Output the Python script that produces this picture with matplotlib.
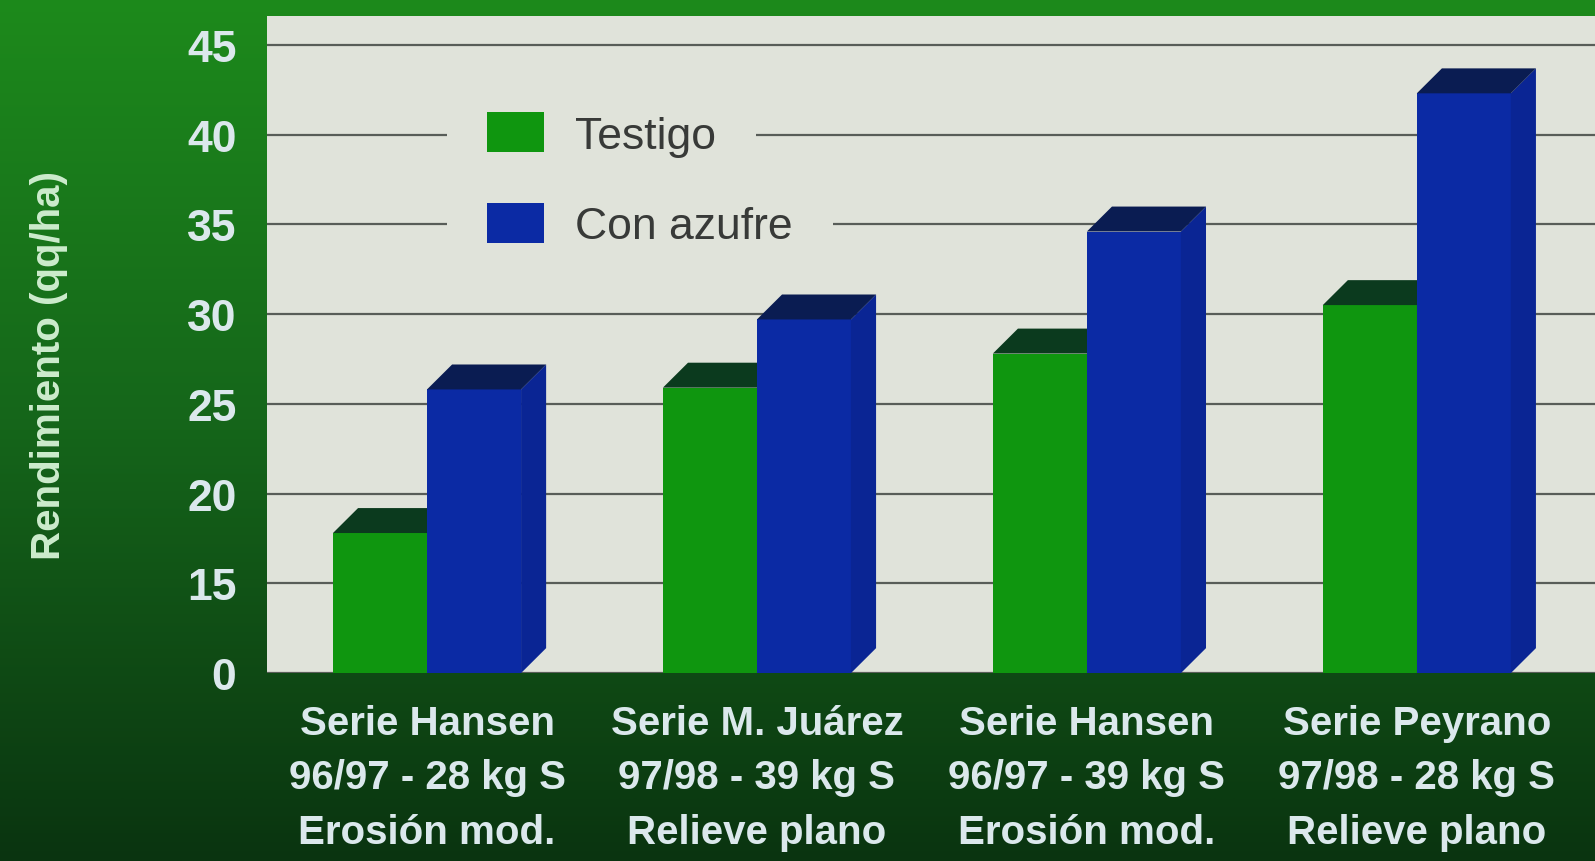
import matplotlib
matplotlib.use("Agg")
import matplotlib.pyplot as plt
import numpy as np
from matplotlib.patches import Polygon, Patch
from matplotlib.colors import to_rgb

# ---------------- data ----------------
categories = [
    "Serie Hansen\n96/97 - 28 kg S\nErosión mod.",
    "Serie M. Juárez\n97/98 - 39 kg S\nRelieve plano",
    "Serie Hansen\n96/97 - 39 kg S\nErosión mod.",
    "Serie Peyrano\n97/98 - 28 kg S\nRelieve plano",
]
series_names = ["Testigo", "Con azufre"]
testigo = [18.5, 26.6, 28.5, 31.2]
con_azufre = [26.5, 30.4, 35.3, 43.0]
ytick_values = [10, 15, 20, 25, 30, 35, 40, 45]
ytick_labels = ["0", "15", "20", "25", "30", "35", "40", "45"]
ylabel = "Rendimiento (qq/ha)"

# ---------------- style ----------------
FONT = ["Liberation Sans", "DejaVu Sans"]
plot_bg = "#e0e3da"
green_front, green_side, green_cap = "#0f960f", "#0c840c", "#0b3a1e"
blue_front, blue_side, blue_cap = "#0b2aa4", "#0a2594", "#0a1c52"
light_text = "#dbe8ec"

fig = plt.figure(figsize=(15.95, 8.62), dpi=100)

# background gradient (decoration)
bg = fig.add_axes([0, 0, 1, 1], zorder=-10)
top_c = np.array(to_rgb("#1d8a1c"))
mid_c = np.array(to_rgb("#15651a"))
bot_c = np.array(to_rgb("#0a3410"))
t = np.linspace(0, 1, 400)[:, None]
grad = np.where(t < 0.5,
                top_c + (mid_c - top_c) * (t / 0.5),
                mid_c + (bot_c - mid_c) * ((t - 0.5) / 0.5))
bg.imshow(grad[:, None, :].repeat(4, axis=1), aspect="auto", extent=[0, 1, 0, 1])
bg.set_axis_off()

ax = fig.add_axes([0.1674, 0.218, 0.8326, 0.762])
ax.set_facecolor(plot_bg)
ax.set_xlim(-0.485, 3.54)
ax.set_ylim(10, 46.6)

w = 0.285     # bar width (data units)
dx = 0.076    # 3D depth offset in x
dy = 1.39     # 3D depth offset in y
x = np.arange(len(categories))


def draw_series(vals, offset, front, side, cap, z, label):
    vals = np.asarray(vals, dtype=float)
    tops = vals - dy / 2
    bars = ax.bar(x + offset, tops - 10, width=w, bottom=10, align="edge",
                  color=front, zorder=z, label=label, linewidth=0)
    for r in bars:
        x0, b = r.get_x(), r.get_y()
        tp = b + r.get_height()
        side_poly = [(x0 + w, b), (x0 + w, tp), (x0 + w + dx, tp + dy),
                     (x0 + w + dx, b + dy)]
        cap_poly = [(x0, tp), (x0 + dx, tp + dy), (x0 + w + dx, tp + dy),
                    (x0 + w, tp)]
        ax.add_patch(Polygon(side_poly, closed=True, facecolor=side,
                             edgecolor="none", zorder=z))
        ax.add_patch(Polygon(cap_poly, closed=True, facecolor=cap,
                             edgecolor="none", zorder=z))
    return bars


draw_series(testigo, -w, green_front, green_side, green_cap, 3, series_names[0])
draw_series(con_azufre, 0.0, blue_front, blue_side, blue_cap, 4, series_names[1])

# grid
ax.set_yticks(ytick_values)
ax.set_yticklabels(ytick_labels)
ax.grid(axis="y", color="#585d58", linewidth=1.6, zorder=1)
ax.set_axisbelow(True)
for s in ax.spines.values():
    s.set_visible(False)

ax.tick_params(axis="y", length=0, pad=22, labelcolor=light_text)
for lab in ax.get_yticklabels():
    lab.set_fontfamily(FONT)
    lab.set_fontweight("bold")
    lab.set_fontsize(32)

ax.set_xticks(x)
ax.set_xticklabels(categories, fontsize=29, fontweight="bold", color=light_text,
                   family=FONT, linespacing=1.56)
ax.tick_params(axis="x", length=0, pad=22)

fig.text(49 / 1595, 1 - 366 / 862, ylabel, rotation=90, ha="center", va="center",
         fontsize=29, fontweight="bold", color="#cdeccd", family=FONT)

# legend: one per row so each masks its own gridline
handles = [Patch(facecolor=green_front, edgecolor="none"),
           Patch(facecolor=blue_front, edgecolor="none")]
ys = [0.820, 0.682]
legs = []
for h, name, yy in zip(handles, series_names, ys):
    leg = ax.legend([h], [name], loc="center left", bbox_to_anchor=(0.1355, yy),
                    frameon=True, facecolor=plot_bg, edgecolor="none", framealpha=1,
                    fancybox=False, prop={"family": FONT, "size": 32},
                    handlelength=1.28, handleheight=1.0, handletextpad=0.7,
                    borderpad=0.9, borderaxespad=0, labelcolor="#383a38")
    leg.set_zorder(5)
    legs.append(leg)
for leg in legs[:-1]:
    ax.add_artist(leg)

fig.savefig("out.png", dpi=100, facecolor=fig.get_facecolor())
